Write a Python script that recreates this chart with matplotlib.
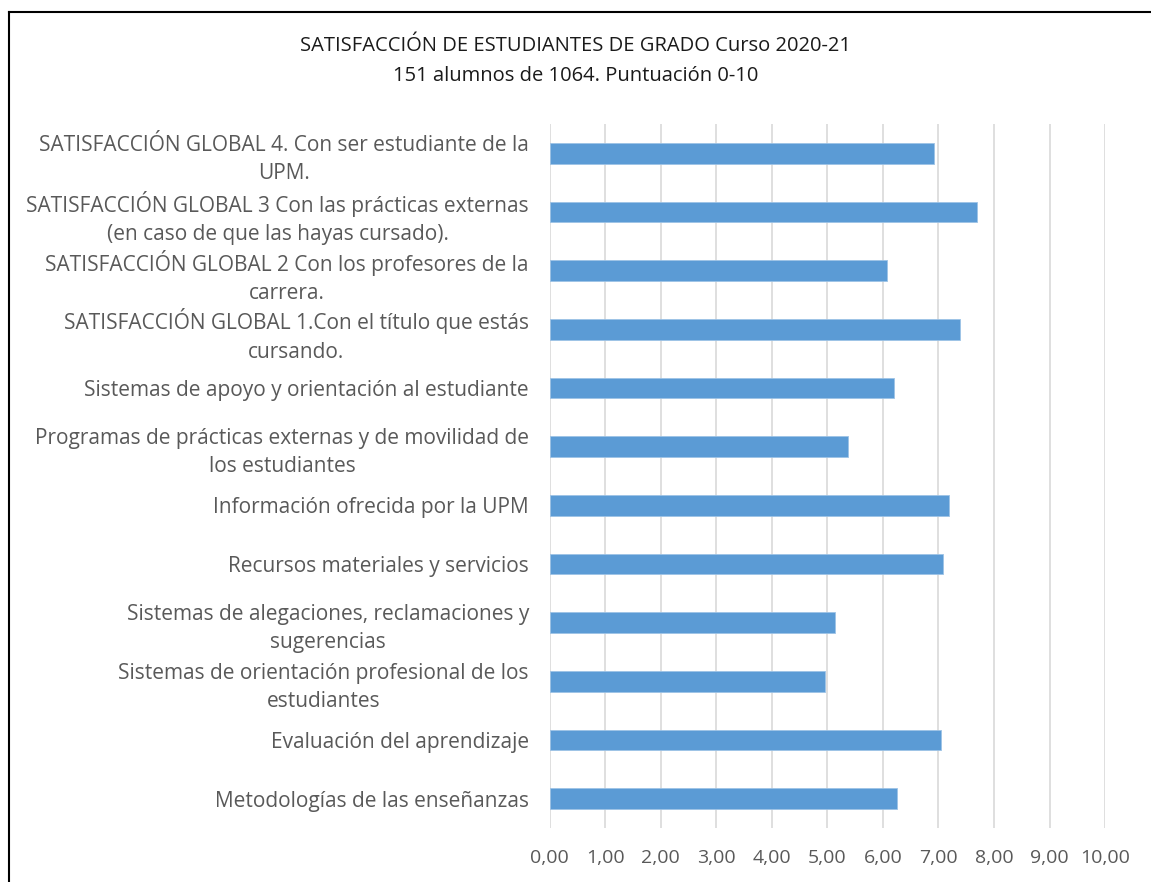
import matplotlib
matplotlib.use("Agg")
import matplotlib.pyplot as plt
from matplotlib.lines import Line2D

plt.rcParams['font.family'] = ['Open Sans', 'DejaVu Sans']

# categorias de abajo hacia arriba (orden de barh)
categorias = [
    "Metodologías de las enseñanzas",
    "Evaluación del aprendizaje",
    "Sistemas de orientación profesional de los\nestudiantes",
    "Sistemas de alegaciones, reclamaciones y\nsugerencias",
    "Recursos materiales y servicios",
    "Información ofrecida por la UPM",
    "Programas de prácticas externas y de movilidad de\nlos estudiantes",
    "Sistemas de apoyo y orientación al estudiante",
    "SATISFACCIÓN GLOBAL 1.Con el título que estás\ncursando.",
    "SATISFACCIÓN GLOBAL 2 Con los profesores de la\ncarrera.",
    "SATISFACCIÓN GLOBAL 3 Con las prácticas externas\n(en caso de que las hayas cursado).",
    "SATISFACCIÓN GLOBAL 4. Con ser estudiante de la\nUPM.",
]
puntuacion = [6.25, 7.04, 4.96, 5.13, 7.08, 7.19, 5.37, 6.20, 7.39, 6.08, 7.70, 6.92]
ticks_x = list(range(0, 11))
etiquetas_x = [f"{v:.2f}".replace(".", ",") for v in ticks_x]

titulo = "SATISFACCIÓN DE ESTUDIANTES DE GRADO Curso 2020-21\n151 alumnos de 1064. Puntuación 0-10"

fig = plt.figure(figsize=(11.51, 8.82), dpi=100)
ax = fig.add_axes([0.4776, 0.0612, 0.4825, 0.7982])

pos = list(range(len(categorias)))
ax.barh(pos, puntuacion, height=0.35, color="#5B9BD5", edgecolor="#9DC3E6", linewidth=0.6, zorder=3)

ax.set_xlim(0, 10)
ax.set_ylim(-0.5, len(categorias) - 0.5)
ax.set_xticks(ticks_x)
ax.set_xticklabels(etiquetas_x, fontsize=14)
ax.set_yticks(pos)
ax.set_yticklabels(categorias, multialignment="center", fontsize=15, linespacing=1.45)
ax.grid(axis="x", color="#D9D9D9", linewidth=1.2, zorder=0)
ax.tick_params(axis="both", length=0, labelcolor="#595959")
ax.tick_params(axis="y", pad=15)
ax.tick_params(axis="x", pad=15)
for s in ax.spines.values():
    s.set_visible(False)

fig.text(0.5, 0.931, titulo, ha="center", va="center", fontsize=14.5,
         color="#1a1a1a", multialignment="center", linespacing=1.65)

# borde del grafico (solo se ven izquierda y arriba)
fig.add_artist(Line2D([9 / 1151, 9 / 1151], [0, 1 - 12 / 882], color="black", linewidth=1.5,
                      transform=fig.transFigure))
fig.add_artist(Line2D([9 / 1151, 1], [1 - 12 / 882, 1 - 12 / 882], color="black", linewidth=1.5,
                      transform=fig.transFigure))

fig.savefig("out.png", dpi=100)
